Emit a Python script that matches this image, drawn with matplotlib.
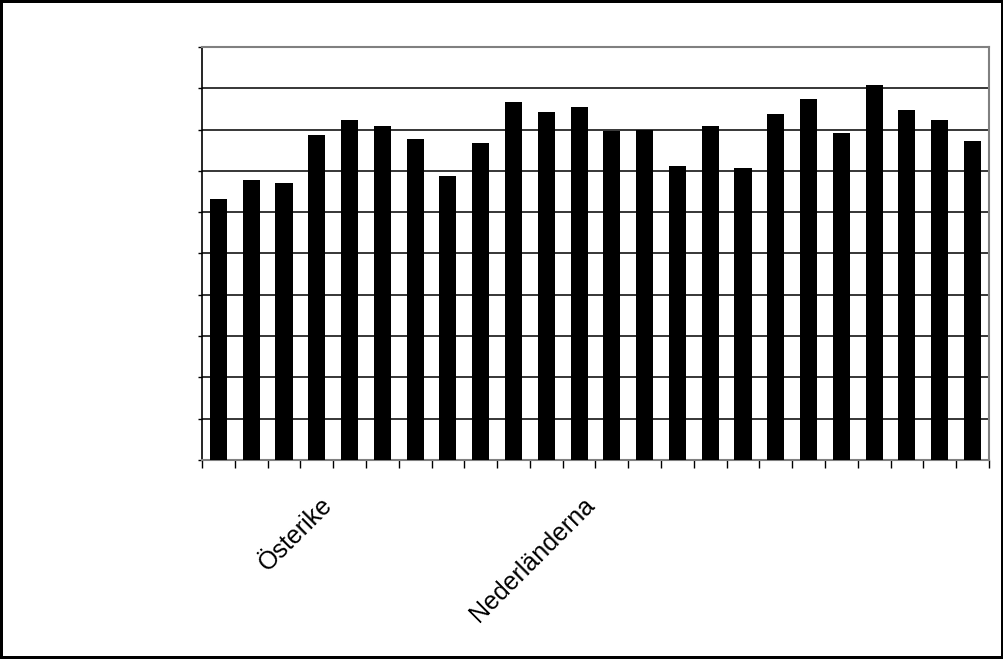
import numpy as np
import matplotlib
matplotlib.use("Agg")
import matplotlib.pyplot as plt
from matplotlib.transforms import ScaledTranslation

# bar heights (gridline units, 0..10)
values = [6.32, 6.78, 6.71, 7.87, 8.23, 8.09, 7.77, 6.88, 7.68, 8.67, 8.43, 8.55,
          7.97, 7.99, 7.12, 8.09, 7.07, 8.38, 8.74, 7.92, 9.08, 8.47, 8.23, 7.72]
# only two category labels are shown in the original
labels = [""] * len(values)
labels[3] = "Österike"
labels[11] = "Nederländerna"

x = np.arange(len(values))

fig = plt.figure(figsize=(10.04, 6.59), dpi=100)
fig.patch.set_edgecolor("black")
fig.patch.set_linewidth(3)
ax = fig.add_axes([0.2012, 0.302, 0.7838, 0.6267])

ax.bar(x, values, width=0.52, color="black", zorder=3)

ax.set_xlim(-0.5, len(values) - 0.5)
ax.set_ylim(0, 10)

# gridlines at every unit
ax.set_yticks(np.arange(0, 11, 1))
ax.yaxis.grid(True, color="black", linewidth=1.1, zorder=1)
ax.tick_params(axis="y", length=3, labelleft=False, width=1)

# tick marks at category boundaries, labels at category centers
ax.set_xticks(x, labels)
ax.set_xticks(np.arange(-0.5, len(values), 1), minor=True)
ax.tick_params(axis="x", which="major", length=0)
ax.tick_params(axis="x", which="minor", length=6, direction="out", width=1)

offset = ScaledTranslation(0.12, -0.36, fig.dpi_scale_trans)
for lab in ax.get_xticklabels():
    lab.set_rotation(45)
    lab.set_rotation_mode("anchor")
    lab.set_ha("right")
    lab.set_va("center")
    lab.set_fontsize(18)
    lab.set_family(["Liberation Sans", "DejaVu Sans"])
    lab.set_transform(lab.get_transform() + offset)

for side in ["top", "right", "bottom"]:
    ax.spines[side].set_color("#808080")
    ax.spines[side].set_linewidth(1.5)
ax.spines["left"].set_color("black")
ax.spines["left"].set_linewidth(1.2)

fig.savefig("out.png", dpi=100, edgecolor=fig.get_edgecolor())
